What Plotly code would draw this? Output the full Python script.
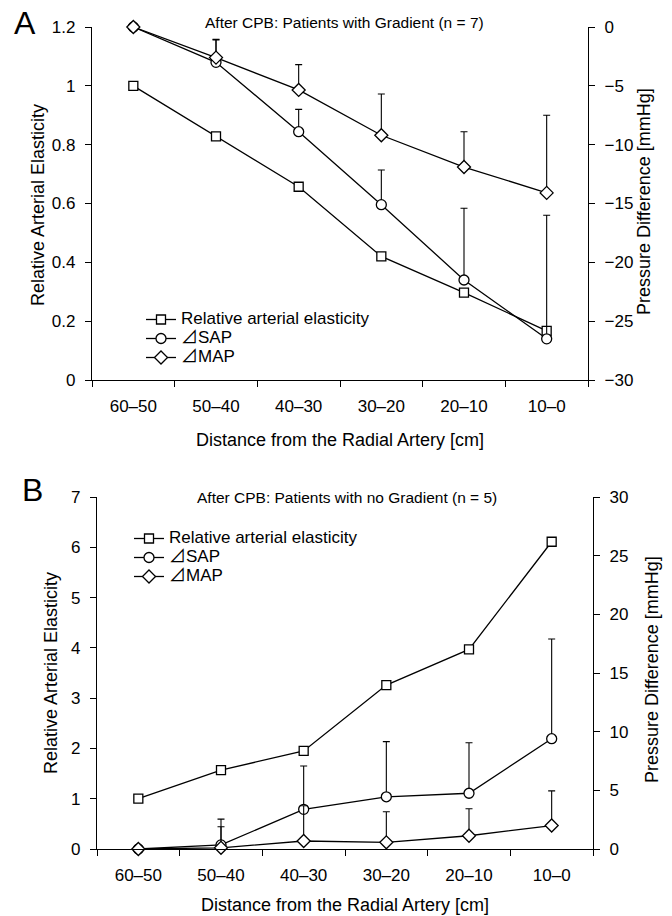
import plotly.graph_objects as go

categories = ["60–50", "50–40", "40–30", "30–20", "20–10", "10–0"]

# Panel A: After CPB, patients with gradient (n = 7)
a_elasticity = [1.0, 0.828, 0.657, 0.42, 0.297, 0.167]
a_sap = [0, -3.0, -8.9, -15.1, -21.5, -26.5]
a_sap_err = [0, 1.9, 1.9, 2.95, 6.1, 10.5]
a_map = [0, -2.6, -5.35, -9.2, -11.9, -14.1]
a_map_err = [0, 1.55, 2.15, 3.5, 3.0, 6.6]

# Panel B: After CPB, patients with no gradient (n = 5)
b_elasticity = [1.0, 1.57, 1.95, 3.26, 3.97, 6.11]
b_sap = [0, 0.35, 3.38, 4.45, 4.75, 9.4]
b_sap_err = [0, 2.2, 3.7, 4.7, 4.3, 8.5]
b_map = [0, 0.1, 0.68, 0.57, 1.13, 2.0]
b_map_err = [0, 1.8, 3.0, 2.6, 2.3, 2.95]

names = ["Relative arterial elasticity", "⊿SAP", "⊿MAP"]

W, H = 672, 916
FONT = "Arial, Liberation Sans, Noto Sans CJK JP, sans-serif"
LW = 1.3


def px(x):
    return x / W


def py(y):
    return 1 - y / H


def leg(t):
    return "<span style='font-size:17px'>" + t + "</span>"


def err(vals):
    return dict(type="data", array=vals, arrayminus=[0] * len(vals), symmetric=False,
                color="black", thickness=1.1, width=3.5)


fig = go.Figure()

specs = [
    ("x", "y", "y2", a_elasticity, a_sap, a_sap_err, a_map, a_map_err, "legend"),
    ("x2", "y3", "y4", b_elasticity, b_sap, b_sap_err, b_map, b_map_err, "legend2"),
]

for xa, yl, yr, el, sap, sap_e, mp, mp_e, lg in specs:
    fig.add_trace(go.Scatter(
        x=categories, y=el, xaxis=xa, yaxis=yl, name=leg(names[0]), legend=lg,
        mode="lines+markers", line=dict(color="black", width=LW), cliponaxis=False,
        marker=dict(symbol="square", size=9, color="white", line=dict(color="black", width=LW))))
    fig.add_trace(go.Scatter(
        x=categories, y=sap, xaxis=xa, yaxis=yr, name=leg(names[1]), legend=lg,
        mode="lines+markers", line=dict(color="black", width=LW), error_y=err(sap_e),
        cliponaxis=False,
        marker=dict(symbol="circle", size=10, color="white", line=dict(color="black", width=LW))))
    fig.add_trace(go.Scatter(
        x=categories, y=mp, xaxis=xa, yaxis=yr, name=leg(names[2]), legend=lg,
        mode="lines+markers", line=dict(color="black", width=LW), error_y=err(mp_e),
        cliponaxis=False,
        marker=dict(symbol="diamond", size=10, color="white", line=dict(color="black", width=LW))))

axis_common = dict(ticks="outside", ticklen=6, tickwidth=1.2, tickcolor="black",
                   showline=True, linecolor="black", linewidth=1.2, showgrid=False,
                   zeroline=False, tickfont=dict(size=17, color="black"), fixedrange=True,
                   automargin=False)


def xaxis(domain, anchor):
    d = dict(axis_common)
    d.update(domain=domain, anchor=anchor, type="category", range=[-0.5, 5.5],
             tickson="boundaries", ticklabelstandoff=10)
    return d


def yaxis(domain, anchor, rng, dtick):
    d = dict(axis_common)
    d.update(domain=domain, anchor=anchor, range=rng, dtick=dtick, tick0=0,
             ticklabelstandoff=6)
    return d


def yaxis_r(over, anchor, rng, dtick):
    d = dict(axis_common)
    d.update(overlaying=over, anchor=anchor, side="right", range=rng, dtick=dtick,
             tick0=0, ticklabelstandoff=6)
    return d


fig.update_layout(
    template="none",
    width=W, height=H, margin=dict(l=0, r=0, t=0, b=0, pad=0, autoexpand=False),
    paper_bgcolor="white", plot_bgcolor="white",
    font=dict(family=FONT, color="black", size=17),
    xaxis=xaxis([px(92), px(588)], "y"),
    yaxis=yaxis([py(380), py(27)], "x", [0, 1.2], 0.2),
    yaxis2=yaxis_r("y", "x", [-30, 0], 5),
    xaxis2=xaxis([px(97), px(593)], "y3"),
    yaxis3=yaxis([py(849), py(497)], "x2", [0, 7], 1),
    yaxis4=yaxis_r("y3", "x2", [0, 30], 5),
    legend=dict(x=px(141), y=py(305), xanchor="left", yanchor="top",
                font=dict(size=12), bgcolor="rgba(0,0,0,0)", borderwidth=0,
                traceorder="normal"),
    legend2=dict(x=px(129), y=py(524), xanchor="left", yanchor="top",
                 font=dict(size=12), bgcolor="rgba(0,0,0,0)", borderwidth=0,
                 traceorder="normal"),
)

annots = [
    ("A", 25, 23, 32, 0),
    ("B", 32, 490, 32, 0),
    ("After CPB: Patients with Gradient (n = 7)", 345, 22.5, 15.5, 0),
    ("After CPB: Patients with no Gradient (n = 5)", 347, 497, 15.5, 0),
    ("Relative Arterial Elasticity", 38, 205, 18, -90),
    ("Pressure Difference [mmHg]", 644, 202, 18, -90),
    ("Distance from the Radial Artery [cm]", 340, 440, 18, 0),
    ("Relative Arterial Elasticity", 51, 673, 18, -90),
    ("Pressure Difference [mmHg]", 652, 670, 18, -90),
    ("Distance from the Radial Artery [cm]", 345, 905, 18, 0),
]
for text, x, y, size, ang in annots:
    fig.add_annotation(text=text, x=px(x), y=py(y), xref="paper", yref="paper",
                       xanchor="center", yanchor="middle", showarrow=False,
                       textangle=ang, font=dict(size=size, family=FONT, color="black"))

fig.write_html("out.html", config={"displayModeBar": False, "staticPlot": False},
               post_script="document.body.style.margin='0px';document.body.style.overflow='hidden';")
